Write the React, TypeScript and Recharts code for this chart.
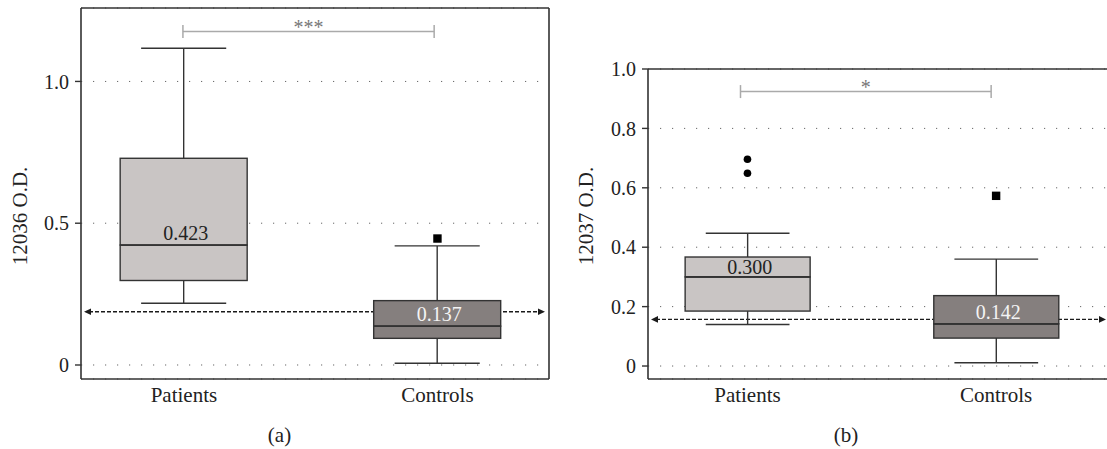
import React from 'react';
import { ComposedChart, Bar, Scatter, XAxis, YAxis, CartesianGrid, ReferenceLine } from 'recharts';

const groups = ['Patients', 'Controls'];
const groupX = [1, 2];
const boxFill = ['#c9c5c4', '#857f7e'];
const labelFill = ['#222222', '#f4f4f4'];

// (a) 12036 O.D.
const aLow = [0.218, 0.006];
const aQ1 = [0.298, 0.094];
const aMedian = [0.423, 0.137];
const aQ3 = [0.729, 0.227];
const aHigh = [1.117, 0.42];
const aOutX = [2];
const aOutY = [0.446];
const aCutoff = 0.188;
const aTicks = [0, 0.5, 1.0];
const aBracketX = [0.996, 1.987];
const aBracketY = 1.176;

// (b) 12037 O.D.
const bLow = [0.14, 0.011];
const bQ1 = [0.185, 0.094];
const bMedian = [0.3, 0.142];
const bQ3 = [0.367, 0.237];
const bHigh = [0.447, 0.36];
const bOutX = [1, 1, 2];
const bOutY = [0.696, 0.649, 0.573];
const bCutoff = 0.157;
const bTicks = [0, 0.2, 0.4, 0.6, 0.8, 1.0];
const bBracketX = [0.972, 1.98];
const bBracketY = 0.924;

const INK = '#333';
const FONT = '"Liberation Serif", "DejaVu Serif", serif';

const buildRows = (low: number[], q1: number[], med: number[], q3: number[], high: number[]) =>
    groups.map((name, i) => ({
        x: groupX[i],
        g: i,
        name,
        base: low[i],
        lowWhisker: q1[i] - low[i],
        lowerBox: med[i] - q1[i],
        upperBox: q3[i] - med[i],
        highWhisker: high[i] - q3[i],
        median: med[i],
    }));

const buildOutliers = (xs: number[], ys: number[]) =>
    xs.map((x, i) => ({ x, y: ys[i], g: groupX.indexOf(x) }));

const Empty = () => null;

const LowWhiskerShape = (p: any) => {
    const { x, y, width, height } = p;
    const cx = x + width / 2;
    const half = width * 0.335;
    return (
        <g>
            <line x1={cx} x2={cx} y1={y} y2={y + height} stroke={INK} strokeWidth={1.4} />
            <line x1={cx - half} x2={cx + half} y1={y + height} y2={y + height} stroke={INK} strokeWidth={1.4} />
        </g>
    );
};

const HighWhiskerShape = (p: any) => {
    const { x, y, width, height } = p;
    const cx = x + width / 2;
    const half = width * 0.335;
    return (
        <g>
            <line x1={cx} x2={cx} y1={y} y2={y + height} stroke={INK} strokeWidth={1.4} />
            <line x1={cx - half} x2={cx + half} y1={y} y2={y} stroke={INK} strokeWidth={1.4} />
        </g>
    );
};

const LowerBoxShape = (p: any) => {
    const { x, y, width, height, payload } = p;
    return <rect x={x} y={y} width={width} height={height} fill={boxFill[payload.g]} stroke={INK} strokeWidth={1.4} />;
};

const UpperBoxShape = (p: any) => {
    const { x, y, width, height, payload } = p;
    const medY = y + height;
    const cy = medY - Math.min(height / 2, 12);
    return (
        <g>
            <rect x={x} y={y} width={width} height={height} fill={boxFill[payload.g]} stroke={INK} strokeWidth={1.4} />
            <line x1={x} x2={x + width} y1={medY} y2={medY} stroke={INK} strokeWidth={1.6} />
            <text x={x + width / 2 + 2} y={cy + 7} textAnchor="middle" fontSize={20} fontFamily={FONT} fill={labelFill[payload.g]}>
                {payload.median.toFixed(3)}
            </text>
        </g>
    );
};

const OutlierShape = (p: any) => {
    const { cx, cy, payload } = p;
    if (payload.g === 0) return <circle cx={cx} cy={cy} r={3.8} fill="#000" />;
    return <rect x={cx - 4.2} y={cy - 4.2} width={8.4} height={8.4} fill="#000" />;
};

const CutoffShape = (p: any) => {
    const { x1, x2, y1 } = p;
    const l = Math.min(x1, x2) + 3;
    const r = Math.max(x1, x2) - 4;
    return (
        <g>
            <line x1={l + 5} x2={r - 5} y1={y1} y2={y1} stroke="#1a1a1a" strokeWidth={1.4} strokeDasharray="4 2" />
            <polygon points={`${l},${y1} ${l + 7},${y1 - 3.3} ${l + 7},${y1 + 3.3}`} fill="#1a1a1a" />
            <polygon points={`${r},${y1} ${r - 7},${y1 - 3.3} ${r - 7},${y1 + 3.3}`} fill="#1a1a1a" />
        </g>
    );
};

const makeBracket = (stars: string) => (p: any) => {
    const { x1, x2, y1 } = p;
    return (
        <g>
            <line x1={x1} x2={x2} y1={y1} y2={y1} stroke="#aaa" strokeWidth={1.5} />
            <line x1={x1} x2={x1} y1={y1 - 6.5} y2={y1 + 6.5} stroke="#aaa" strokeWidth={1.5} />
            <line x1={x2} x2={x2} y1={y1 - 6.5} y2={y1 + 6.5} stroke="#aaa" strokeWidth={1.5} />
            <text x={(x1 + x2) / 2} y={y1 + 2} textAnchor="middle" fontSize={20} fontFamily={FONT} fill="#777">
                {stars}
            </text>
        </g>
    );
};

const fmtY = (v: number) => (v === 0 ? '0' : v.toFixed(1));
const fmtX = (v: number) => groups[groupX.indexOf(v)] ?? '';

const Panel = (props: any) => {
    const {
        left, rows, outliers, yDomain, xDomain, yTicks, cutoff, bracketX, bracketY, stars,
        title, titleX, caption, captionX, yAxisWidth, marginTop, marginRight, barSize, fullFrame,
    } = props;
    return (
        <div style={{ position: 'absolute', left, top: 0 }}>
            <ComposedChart
                width={560}
                height={449}
                data={rows}
                margin={{ top: marginTop, right: marginRight, bottom: 0, left: 0 }}
                style={{ fontFamily: FONT }}
            >
                <CartesianGrid horizontal vertical={false} stroke="#666" strokeDasharray="1.2 10.8" />
                <XAxis
                    type="number"
                    dataKey="x"
                    domain={xDomain}
                    allowDataOverflow
                    ticks={groupX}
                    tickFormatter={fmtX}
                    height={70}
                    tickLine={false}
                    tickSize={0}
                    tickMargin={8}
                    axisLine={{ stroke: INK, strokeWidth: 1.6 }}
                    tick={{ fontSize: 21, fill: '#222', fontFamily: FONT }}
                    label={() => (
                        <text x={captionX} y={442} textAnchor="middle" fontSize={21} fontFamily={FONT} fill="#222">
                            {caption}
                        </text>
                    )}
                />
                <YAxis
                    type="number"
                    domain={yDomain}
                    allowDataOverflow
                    ticks={yTicks}
                    tickFormatter={fmtY}
                    width={yAxisWidth}
                    tickSize={6}
                    tickMargin={6}
                    tickLine={{ stroke: INK, strokeWidth: 1.4 }}
                    axisLine={{ stroke: INK, strokeWidth: 1.6 }}
                    tick={{ fontSize: 20, fill: '#222', fontFamily: FONT }}
                    label={() => (
                        <text
                            x={titleX}
                            y={216}
                            transform={`rotate(-90, ${titleX}, 216)`}
                            textAnchor="middle"
                            dominantBaseline="central"
                            fontSize={21}
                            fontFamily={FONT}
                            fill="#222"
                        >
                            {title}
                        </text>
                    )}
                />
                <ReferenceLine y={yDomain[1]} stroke={INK} strokeWidth={1.6} />
                {fullFrame && <ReferenceLine x={xDomain[1]} stroke={INK} strokeWidth={1.6} />}
                <ReferenceLine y={cutoff} shape={CutoffShape} zIndex={100} />
                <ReferenceLine
                    segment={[{ x: bracketX[0], y: bracketY }, { x: bracketX[1], y: bracketY }]}
                    shape={makeBracket(stars)}
                />
                <Bar dataKey="base" stackId="box" barSize={barSize} shape={Empty} isAnimationActive={false} zIndex={500} />
                <Bar dataKey="lowWhisker" stackId="box" barSize={barSize} shape={LowWhiskerShape} isAnimationActive={false} zIndex={500} />
                <Bar dataKey="lowerBox" stackId="box" barSize={barSize} shape={LowerBoxShape} isAnimationActive={false} zIndex={500} />
                <Bar dataKey="upperBox" stackId="box" barSize={barSize} shape={UpperBoxShape} isAnimationActive={false} zIndex={500} />
                <Bar dataKey="highWhisker" stackId="box" barSize={barSize} shape={HighWhiskerShape} isAnimationActive={false} zIndex={500} />
                <Scatter data={outliers} dataKey="y" shape={OutlierShape} isAnimationActive={false} zIndex={600} />
            </ComposedChart>
        </div>
    );
};

export default function App() {
    return (
        <div style={{ position: 'absolute', left: 0, top: 0, width: 1107, height: 449, overflow: 'hidden', background: '#fff' }}>
            <Panel
                left={0}
                rows={buildRows(aLow, aQ1, aMedian, aQ3, aHigh)}
                outliers={buildOutliers(aOutX, aOutY)}
                yDomain={[-0.0494, 1.259]}
                xDomain={[0.594, 2.44]}
                yTicks={aTicks}
                cutoff={aCutoff}
                bracketX={aBracketX}
                bracketY={aBracketY}
                stars="***"
                title="12036 O.D."
                titleX={19.6}
                caption="(a)"
                captionX={279.5}
                yAxisWidth={81}
                marginTop={8}
                marginRight={11}
                barSize={127}
                fullFrame
            />
            <Panel
                left={560}
                rows={buildRows(bLow, bQ1, bMedian, bQ3, bHigh)}
                outliers={buildOutliers(bOutX, bOutY)}
                yDomain={[-0.0437, 1.0]}
                xDomain={[0.6, 2.458]}
                yTicks={bTicks}
                cutoff={bCutoff}
                bracketX={bBracketX}
                bracketY={bBracketY}
                stars="*"
                title="12037 O.D."
                titleX={26}
                caption="(b)"
                captionX={286}
                yAxisWidth={88}
                marginTop={69}
                marginRight={10}
                barSize={125}
                fullFrame={false}
            />
        </div>
    );
}
